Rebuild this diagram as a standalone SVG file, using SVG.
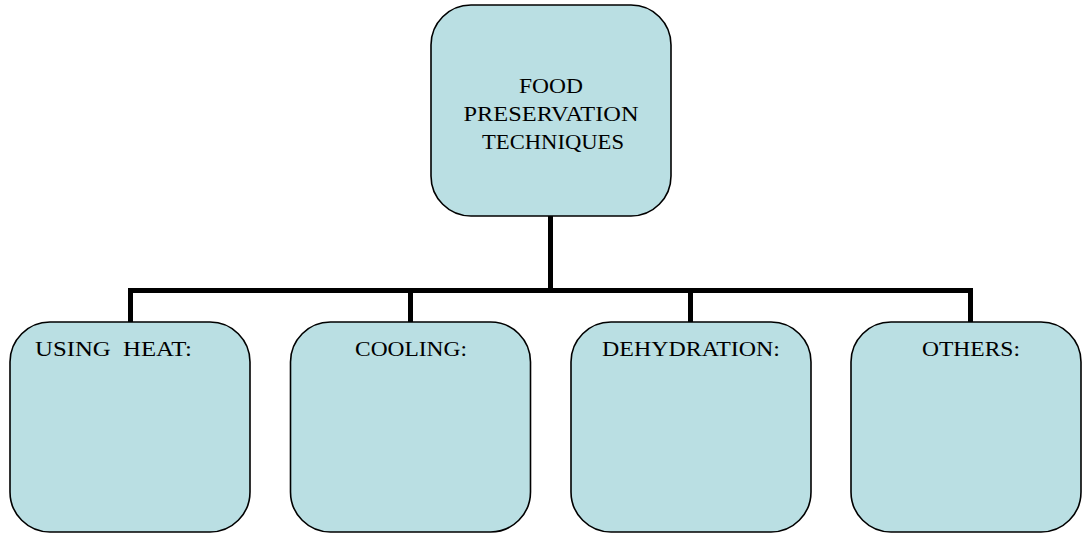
<svg xmlns="http://www.w3.org/2000/svg" width="1083" height="533" viewBox="0 0 1083 533">
<style>
.box{fill:#badfe3;stroke:#000;stroke-width:1.6}
.conn{fill:none;stroke:#000;stroke-width:5;stroke-linejoin:miter}
</style>
<rect width="1083" height="533" fill="#fff"/>
<g id="connectors">
<path class="conn" d="M550.5 216 V290.5 M130.5 322 V290.5 H970.5 V322 M410.5 290.5 V322 M690.5 290.5 V322"/>
</g>
<g font-family="Liberation Serif, Times New Roman, serif" font-size="22" fill="#000">
<g id="node-root">
<rect class="box" x="431" y="5" width="240" height="211" rx="40" ry="40"/>
<text text-anchor="middle" x="551" y="93" textLength="64" lengthAdjust="spacingAndGlyphs">FOOD</text>
<text text-anchor="middle" x="551" y="121" textLength="175" lengthAdjust="spacingAndGlyphs">PRESERVATION</text>
<text text-anchor="middle" x="553" y="149" textLength="142" lengthAdjust="spacingAndGlyphs">TECHNIQUES</text>
</g>
<g id="node-heat">
<rect class="box" x="10" y="322" width="240" height="210" rx="40" ry="40"/>
<text x="35" y="356" xml:space="preserve" textLength="157" lengthAdjust="spacingAndGlyphs">USING  HEAT:</text>
</g>
<g id="node-cooling">
<rect class="box" x="290.5" y="322" width="240" height="210" rx="40" ry="40"/>
<text text-anchor="middle" x="411" y="356" textLength="112" lengthAdjust="spacingAndGlyphs">COOLING:</text>
</g>
<g id="node-dehydration">
<rect class="box" x="571" y="322" width="240" height="210" rx="40" ry="40"/>
<text text-anchor="middle" x="691" y="356" textLength="178" lengthAdjust="spacingAndGlyphs">DEHYDRATION:</text>
</g>
<g id="node-others">
<rect class="box" x="851" y="322" width="230" height="210" rx="40" ry="40"/>
<text text-anchor="middle" x="971" y="356" textLength="98" lengthAdjust="spacingAndGlyphs">OTHERS:</text>
</g>
</g>
</svg>
